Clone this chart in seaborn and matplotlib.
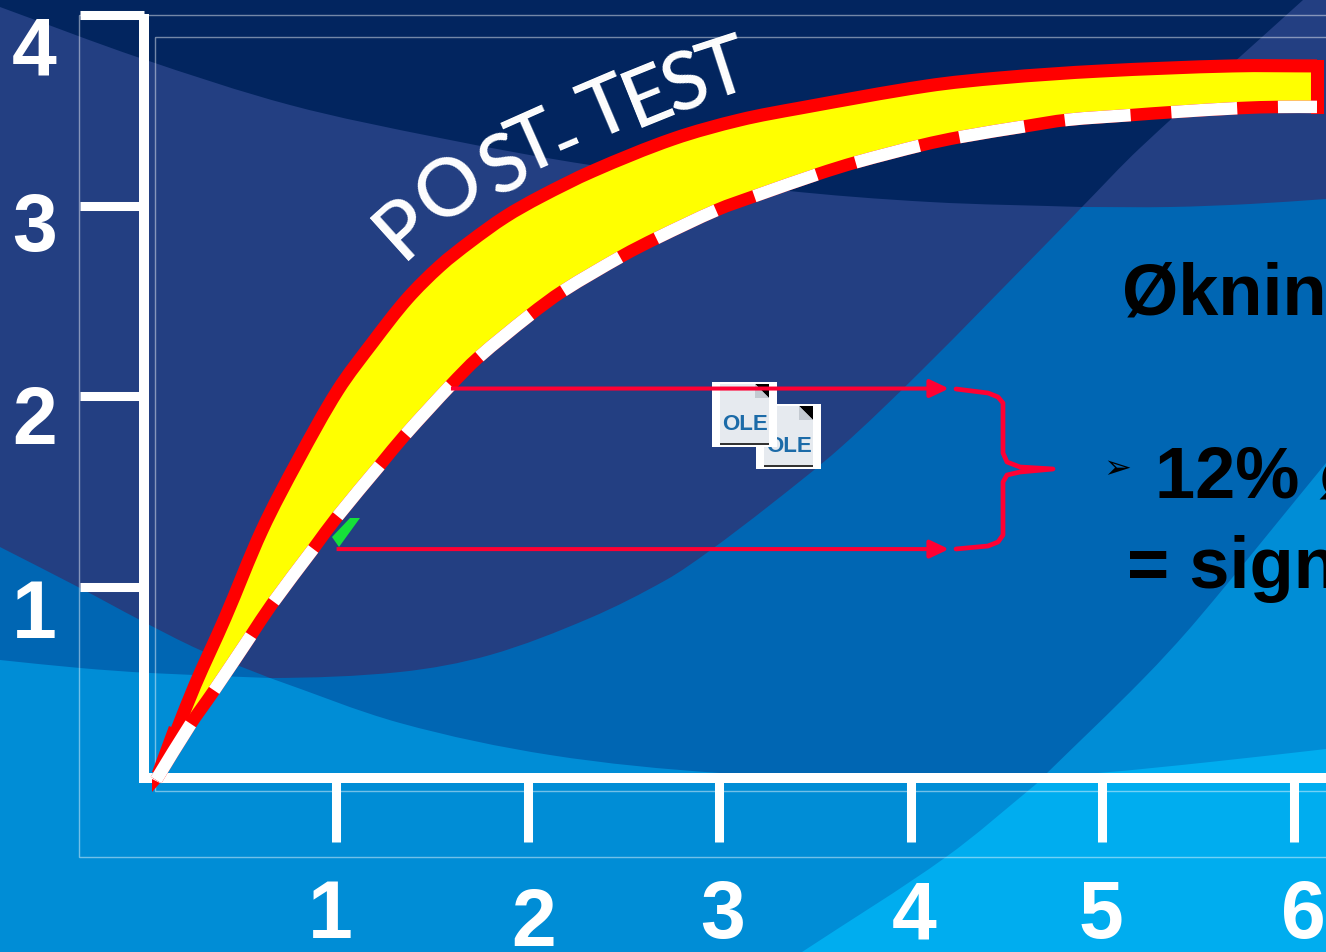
import matplotlib
matplotlib.use("Agg")
import matplotlib.pyplot as plt
import numpy as np
import seaborn as sns
from matplotlib.patches import PathPatch, Polygon, Rectangle
from matplotlib.path import Path
from matplotlib.transforms import Affine2D, ScaledTranslation

# Curve readings: x = time, y = score
post_x = [0.170, 0.264, 0.421, 0.614, 0.802, 1.010, 1.193, 1.371, 1.543, 1.699, 1.882, 2.065,
          2.341, 2.759, 3.109, 3.422, 4.085, 4.466, 4.987, 5.681, 6.120]
post_y = [0.250, 0.486, 0.838, 1.299, 1.666, 2.033, 2.285, 2.511, 2.684, 2.810, 2.941, 3.046,
          3.182, 3.350, 3.450, 3.512, 3.628, 3.670, 3.706, 3.733, 3.733]
pre_x = [0.061, 0.238, 0.358, 0.551, 0.666, 0.885, 1.005, 1.230, 1.360, 1.600, 1.741, 2.013,
         2.185, 2.493, 2.676, 2.989, 3.187, 3.516, 3.719, 4.059, 4.257, 4.606, 4.815, 5.160,
         5.368, 5.718, 5.927, 6.120]
pre_y = [-0.012, 0.276, 0.449, 0.738, 0.911, 1.205, 1.367, 1.640, 1.797, 2.060, 2.202, 2.427,
         2.553, 2.736, 2.831, 2.978, 3.051, 3.166, 3.229, 3.318, 3.360, 3.418, 3.450, 3.476,
         3.491, 3.512, 3.518, 3.518]
gap_start_x = [1.600, 1.003]
gap_end_x = [4.200, 4.200]
gap_y = [2.041, 1.199]

x_ticks = [1, 2, 3, 4, 5, 6]
y_ticks = [1, 2, 3, 4]
curve_letters = list("POST-TEST")
headline = "Økning"
bullet_line = "12% økning"
result_line = "= signifikant"

W, H = 1326, 952
NAVY, SLATE, BLUE, SKY, BRIGHT = "#02255F", "#233F82", "#0066B3", "#008DD6", "#00ADEF"
RED, ARROW_RED = "#FF0000", "#FF0033"

sns.set_style("white")
plt.rcParams["font.family"] = ["Liberation Sans", "DejaVu Sans"]

fig = plt.figure(figsize=(W / 100, H / 100), dpi=100)
ax = fig.add_axes([0, 0, 1, 1], facecolor=NAVY)
ax.set_axisbelow(False)
# Slide furniture is laid out in screen units, origin top left
PX = Affine2D().scale(1 / W, -1 / H).translate(0, 1) + fig.transFigure


def spline_segments(pts):
    """Bezier segments of a smooth stroke through the given points."""
    pts = np.asarray(pts, dtype=float)
    tang = np.zeros_like(pts)
    tang[1:-1] = pts[2:] - pts[:-2]
    tang[0] = pts[1] - pts[0]
    tang[-1] = pts[-1] - pts[-2]
    tang /= np.linalg.norm(tang, axis=1, keepdims=True)
    verts = []
    for i in range(len(pts) - 1):
        step = np.linalg.norm(pts[i + 1] - pts[i]) / 3
        verts += [pts[i] + tang[i] * step, pts[i + 1] - tang[i + 1] * step, pts[i + 1]]
    return verts


def runs_path(runs, close=True):
    """Path from runs of points: each run is smoothed, straight edges join the runs."""
    verts, codes = [], []
    for k, run in enumerate(runs):
        if k == 0:
            verts.append(run[0])
            codes.append(Path.MOVETO)
        else:
            verts.append(run[0])
            codes.append(Path.LINETO)
        if len(run) > 1:
            segs = spline_segments(run)
            verts += segs
            codes += [Path.CURVE4] * len(segs)
    if close:
        verts.append(runs[0][0])
        codes.append(Path.CLOSEPOLY)
    return Path(verts, codes)


def swoosh(runs, color, z):
    ax.add_patch(PathPatch(runs_path(runs), facecolor=color, edgecolor="none", transform=PX, zorder=z))


def shape(points, color, z=1.0):
    ax.add_patch(Polygon(points, closed=True, facecolor=color, edgecolor="none", transform=PX, zorder=z))


# Background swooshes
edge_top = [(0, 7), (140, 58), (290, 105), (440, 138), (590, 165), (780, 190), (930, 202), (1082, 207)]
edge_mid = [(0, 660), (80, 668), (150, 673), (270, 678), (400, 672), (490, 655), (590, 618), (666, 580),
            (708, 552), (770, 505), (840, 448), (920, 372), (1050, 240), (1082, 207)]
edge_blue_top = [(1082, 207), (1170, 207), (1250, 204), (1326, 199)]
edge_left = [(0, 547), (80, 588), (140, 620), (200, 650), (270, 678)]
edge_lower = [(0, 660), (80, 668), (150, 673), (270, 678)]
edge_sweep = [(270, 678), (400, 723), (550, 755), (720, 773), (880, 777), (1046, 774)]
edge_rise = [(1046, 774), (1142, 680), (1197, 620), (1326, 463)]
edge_bright_top = [(1046, 775), (1098, 773), (1210, 762), (1326, 749)]
edge_bright_side = [(802, 952), (946, 857), (1035, 785), (1046, 775)]

swoosh([edge_top, [(1082, 207), (1140, 148), (1303, 0)], [(1326, 0)], [(1326, 952)], [(0, 952)]], SLATE, 1.0)
swoosh([edge_mid, edge_blue_top, [(1326, 952)], [(0, 952)]], BLUE, 1.1)
swoosh([edge_left, [(270, 952)], [(0, 952)]], BLUE, 1.1)
swoosh([edge_lower, edge_sweep, edge_rise, [(1326, 952)], [(0, 952)]], SKY, 1.2)
swoosh([edge_bright_side, edge_bright_top, [(1326, 952)]], BRIGHT, 1.3)

# Thin frames around the plot area
for x0, y0, x1, y1 in [(79, 15, 1400, 857), (155, 37, 1400, 791)]:
    ax.add_patch(Rectangle((x0, y0), x1 - x0, y1 - y0, fill=False, edgecolor=(1, 1, 1, 0.45),
                           lw=1.0, transform=PX, zorder=1.5))

# Band between the two curves
ax.fill(np.r_[post_x, pre_x[::-1]], np.r_[post_y, pre_y[::-1]], color="#FFFF00", lw=0, zorder=3)

# Series lines, kept just inside the smooth strokes laid over them
sns.lineplot(x=post_x, y=post_y, sort=False, estimator=None, color=RED, lw=6,
             solid_capstyle="butt", zorder=3.9, ax=ax)
sns.lineplot(x=pre_x, y=pre_y, sort=False, estimator=None, color=RED, lw=5,
             solid_capstyle="butt", zorder=3.9, ax=ax)
# Right-hand closing edge of the band
sns.lineplot(x=[post_x[-1], pre_x[-1]], y=[post_y[-1], pre_y[-1]], sort=False, estimator=None, color=RED,
             lw=9.4, solid_capstyle="projecting", zorder=4, ax=ax)

# Post-test curve
post_pts = list(zip(post_x, post_y))
pre_pts = list(zip(pre_x, pre_y))
ax.add_patch(PathPatch(runs_path([post_pts], close=False), fill=False, edgecolor=RED, lw=9.4,
                       capstyle="butt", joinstyle="round", zorder=4))
# Tapered start of both curves
shape([(152, 772), (169, 726), (185, 733), (165, 775)], RED, 4.0)
shape([(152, 779), (160, 783), (152, 792)], RED, 5.0)
# Pre-test curve: white dashes over a red line
ax.add_patch(PathPatch(runs_path([pre_pts], close=False), fill=False, edgecolor=RED, lw=9.0,
                       capstyle="butt", joinstyle="round", zorder=5))
ax.add_patch(PathPatch(runs_path([pre_pts], close=False), fill=False, edgecolor="white", lw=9.0,
                       linestyle=(0, (5.28, 3.264)), capstyle="butt", joinstyle="round", zorder=6))

# Small green marker on the curve
shape([(350, 518), (360, 518), (339, 547), (332, 537)], "#16E03A", 5.5)

# OLE placeholders: the rear one first, the front one covering it
for dx, dy, z in [(44, 22, 7.0), (0, 0, 7.2)]:
    ax.add_patch(Rectangle((712 + dx, 382 + dy), 65, 65, facecolor="white", edgecolor="none",
                           transform=PX, zorder=z))
    shape([(720 + dx, 384 + dy), (755 + dx, 384 + dy), (769 + dx, 398 + dy), (769 + dx, 445 + dy),
           (720 + dx, 445 + dy)], "#E6EAEF", z + 0.01)
    shape([(755 + dx, 384 + dy), (769 + dx, 384 + dy), (769 + dx, 398 + dy)], "black", z + 0.02)
    shape([(755 + dx, 384 + dy), (769 + dx, 398 + dy), (755 + dx, 398 + dy)], "#C4CAD1", z + 0.02)
    ax.add_patch(Rectangle((720 + dx, 443 + dy), 49, 2, facecolor="#333333", edgecolor="none",
                           transform=PX, zorder=z + 0.02))
    ax.text(745 + dx, 424 + dy, "OLE", transform=PX, ha="center", va="center", fontsize=16,
            color="#1C6BA8", fontweight="bold", zorder=z + 0.03)

# Arrows marking the gap
for x0, x1, y in zip(gap_start_x, gap_end_x, gap_y):
    ax.annotate("", xy=(x1, y), xytext=(x0, y), zorder=8,
                arrowprops=dict(arrowstyle="-|>,head_length=1.15,head_width=0.54", mutation_scale=10,
                                color=ARROW_RED, lw=2.9, shrinkA=0, shrinkB=0, capstyle="butt"))

# Brace joining the arrows
brace = [(956, 389), (988, 393), (998, 397), (1003, 403), (1003, 453), (1007, 462), (1020, 467), (1053, 469),
         (1020, 472), (1007, 475), (1003, 482), (1003, 535), (998, 542), (988, 546), (956, 549)]
ax.plot(*zip(*brace), color=ARROW_RED, lw=3.4, transform=PX, solid_joinstyle="round", zorder=8)

# Axes drawn as heavy white spines with long ticks
sns.despine(ax=ax)
for side in ("left", "bottom"):
    ax.spines[side].set_position(("data", 0))
    ax.spines[side].set_linewidth(7.2)
    ax.spines[side].set_color("white")
    ax.spines[side].set_capstyle("projecting")
ax.spines["left"].set_bounds(0, 3.98)
ax.spines["bottom"].set_bounds(0, 6.5)
ax.set_xticks(x_ticks, labels=[str(v) for v in x_ticks])
ax.set_yticks(y_ticks, labels=[str(v) for v in y_ticks])
ax.tick_params(axis="both", direction="out", length=46, width=6.5, color="white", labelcolor="white",
               labelsize=58, left=True, bottom=True)
ax.tick_params(axis="x", pad=27)
ax.tick_params(axis="y", pad=17)
for lab in ax.get_xticklabels() + ax.get_yticklabels():
    lab.set_fontweight("bold")
x_shift = [-6, 6, 3, 3, -1, 9]
y_drop = [0, 8, 0, 0, 0, 0]
for lab, dx, dy in zip(ax.get_xticklabels(), x_shift, y_drop):
    lab.set_transform(lab.get_transform() + ScaledTranslation(dx / 100, -dy / 100, fig.dpi_scale_trans))
for lab, dy in zip(ax.get_yticklabels(), [21, 18, 16, 30]):
    lab.set_transform(lab.get_transform() + ScaledTranslation(0, -dy / 100, fig.dpi_scale_trans))

ax.set_xlim((0 - 144.4) / 191.6, (W - 144.4) / 191.6)
ax.set_ylim((777.7 - H) / 190.67, 777.7 / 190.67)
ax.set_xlabel("")
ax.set_ylabel("")

# Curve label, set letter by letter along the band
letter_centres = [(405, 228), (450, 190), (505, 167), (535, 145), (568, 143), (607, 110), (648, 98), (686, 85), (724, 72)]
letter_turn = [42, 35, 27, 24, 23, 23, 22, 20, 18]
for ch, (cx, cy), turn in zip(curve_letters, letter_centres, letter_turn):
    ax.text(cx, cy, ch, transform=PX, rotation=turn, rotation_mode="anchor", ha="center", va="center",
            color="white", fontsize=58, family="Lato", fontweight="medium", zorder=9)

# Conclusion text on the right
ax.text(1122, 315, headline, transform=PX, fontsize=52, fontweight="bold", color="black", va="baseline", zorder=9)
ax.text(1155, 498, bullet_line, transform=PX, fontsize=52, fontweight="bold", color="black", va="baseline", zorder=9)
ax.text(1127, 588, result_line, transform=PX, fontsize=52, fontweight="bold", color="black", va="baseline", zorder=9)
ax.text(1117, 469, "\u27a2", transform=PX, fontsize=24, color="black", family="DejaVu Sans",
        ha="center", va="center", zorder=9)

fig.savefig("out.png", dpi=100)
